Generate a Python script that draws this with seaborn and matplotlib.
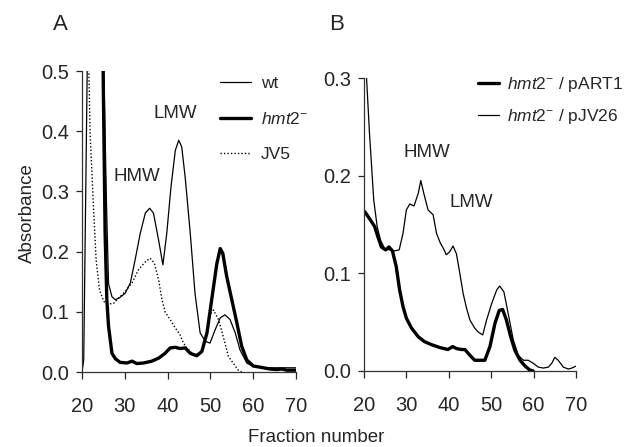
import matplotlib
matplotlib.use("Agg")
import matplotlib.pyplot as plt
import seaborn as sns
import pandas as pd
from matplotlib import font_manager

# ---------------- data ----------------
# Panel A
wt_x = [20.0, 20.4, 21.3, 22.0, 24.0, 25.05, 25.7, 26.2, 27.0, 27.8, 28.9, 30.1, 31.3, 32.4, 33.6,
        34.8, 35.8, 36.7, 37.9, 38.9, 39.8, 40.8, 41.8, 42.6, 43.3, 44.1, 45.3, 46.4, 47.6,
        48.8, 49.9, 51.1, 52.3, 53.4, 54.6, 55.8, 56.9, 58.5, 60.0, 61.6, 63.2, 66.0, 70.0]
wt_y = [0.0, 0.02, 0.55, 0.7, 0.7, 0.52, 0.286, 0.147, 0.125, 0.12, 0.124, 0.131, 0.148, 0.186, 0.23,
        0.264, 0.272, 0.264, 0.219, 0.178, 0.23, 0.308, 0.368, 0.385, 0.374, 0.324, 0.23, 0.131, 0.065,
        0.051, 0.048, 0.07, 0.09, 0.095, 0.087, 0.065, 0.037, 0.015, 0.009, 0.008, 0.007, 0.007, 0.007]

hmt2_x = [24.0, 24.9, 25.4, 25.8, 26.2, 27.0, 27.8, 28.9, 30.5, 31.7, 32.8, 34.4, 36.3, 37.9, 39.4,
          40.6, 41.8, 42.9, 44.1, 45.3, 46.8, 48.0, 49.2, 50.3, 51.5, 52.3, 52.9, 53.8, 55.0,
          56.2, 57.3, 58.5, 60.0, 61.6, 63.9, 65.5, 66.7, 67.8, 70.0]
hmt2_y = [0.7, 0.52, 0.23, 0.12, 0.076, 0.031, 0.022, 0.016, 0.015, 0.018, 0.014, 0.015, 0.018, 0.023, 0.031,
          0.04, 0.041, 0.039, 0.04, 0.031, 0.027, 0.034, 0.065, 0.12, 0.18, 0.205, 0.197, 0.159, 0.12,
          0.081, 0.043, 0.02, 0.01, 0.008, 0.005, 0.004, 0.005, 0.003, 0.003]

jv5_x = [21.3, 21.6, 21.9, 22.6, 23.3, 24.1, 25.1, 26.2, 27.4, 28.6, 30.1, 31.7, 33.2, 34.8, 35.9,
         36.9, 37.9, 38.7, 39.4, 40.6, 41.8, 42.9, 43.7, 44.5, 46.0, 47.6, 48.7, 49.9, 50.7,
         51.9, 53.0, 54.2, 55.3, 56.5, 57.3]
jv5_y = [0.6, 0.5, 0.396, 0.286, 0.186, 0.136, 0.117, 0.113, 0.114, 0.123, 0.134, 0.148, 0.17, 0.183, 0.189,
         0.181, 0.153, 0.12, 0.1, 0.087, 0.073, 0.062, 0.048, 0.04, 0.029, 0.031, 0.05, 0.095, 0.103,
         0.087, 0.059, 0.026, 0.015, 0.003, 0.0]

# Panel B
part1_x = [20.2, 21.3, 22.5, 23.3, 24.1, 25.1, 25.9, 26.7, 27.6, 28.4, 29.2, 30.0, 31.2, 32.8, 34.3,
           35.9, 37.9, 39.8, 40.9, 41.8, 43.0, 43.8, 45.0, 46.1, 47.3, 48.5, 49.7, 50.9, 51.9,
           52.7, 53.6, 54.6, 55.6, 56.8, 58.0, 59.1, 59.9]
part1_y = [0.163, 0.156, 0.148, 0.137, 0.127, 0.124, 0.127, 0.123, 0.107, 0.083, 0.066, 0.054, 0.044, 0.035, 0.03,
           0.027, 0.024, 0.022, 0.025, 0.023, 0.022, 0.022, 0.016, 0.011, 0.011, 0.011, 0.025, 0.049, 0.062,
           0.063, 0.052, 0.035, 0.021, 0.011, 0.005, 0.001, 0.0]

pjv26_x = [20.3, 20.6, 21.3, 22.3, 23.1, 23.9, 24.9, 26.1, 27.2, 28.3, 29.2, 30.0, 30.8, 31.8, 32.8,
           33.4, 34.1, 35.1, 36.3, 37.1, 38.0, 38.8, 39.4, 40.2, 41.0, 41.8, 42.6, 43.4, 44.2,
           45.0, 46.1, 46.9, 48.0, 48.9, 50.1, 51.3, 52.0, 53.0, 54.0, 55.2, 56.4, 57.6, 58.7,
           59.9, 61.1, 62.3, 63.5, 64.3, 65.0, 65.8, 67.0, 68.2, 69.0, 70.0]
pjv26_y = [0.32, 0.3, 0.243, 0.175, 0.148, 0.134, 0.125, 0.124, 0.123, 0.124, 0.141, 0.165, 0.171, 0.169, 0.182,
           0.195, 0.182, 0.165, 0.16, 0.141, 0.131, 0.125, 0.119, 0.122, 0.128, 0.12, 0.1, 0.079, 0.064,
           0.052, 0.044, 0.04, 0.037, 0.052, 0.069, 0.083, 0.087, 0.081, 0.059, 0.032, 0.016, 0.011, 0.011,
           0.008, 0.004, 0.003, 0.004, 0.008, 0.014, 0.011, 0.004, 0.002, 0.003, 0.005]

xticks = [20, 30, 40, 50, 60, 70]
yticks_a = [0.0, 0.1, 0.2, 0.3, 0.4, 0.5]
yticks_b = [0.0, 0.1, 0.2, 0.3]

# ---------------- style ----------------
sns.set_style("ticks")
names = {f.name for f in font_manager.fontManager.ttflist}
fam = ["Liberation Sans Narrow", "Liberation Sans", "DejaVu Sans"]
fam = [f for f in fam if f in names] or ["DejaVu Sans"]
plt.rcParams["font.family"] = fam
base = fam[0]
plt.rcParams["mathtext.fontset"] = "custom"
plt.rcParams["mathtext.rm"] = base
plt.rcParams["mathtext.it"] = base + ":italic"
plt.rcParams["mathtext.bf"] = base + ":bold"

TICK_FS = 14.5
LEG_FS = 12.5
ANN_FS = 13.5

fig = plt.figure(figsize=(6.24, 4.47), dpi=100)
axA = fig.add_axes([82 / 624, 1 - 372 / 447, 214 / 624, 301 / 447])
axB = fig.add_axes([364 / 624, 1 - 371 / 447, 212 / 624, 293 / 447])

thin = 0.9
thick = 2.4

dA = [("wt", wt_x, wt_y, dict(lw=thin, ls="-")),
      (r"$\mathit{hmt2}^{-}$", hmt2_x, hmt2_y, dict(lw=thick, ls="-")),
      ("JV5", jv5_x, jv5_y, dict(lw=1.0, ls=(0, (1, 1.5))))]
for lab, xs, ys, st in dA:
    df = pd.DataFrame({"x": xs, "y": ys})
    sns.lineplot(data=df, x="x", y="y", ax=axA, color="black", label=lab,
                 estimator=None, sort=False, **st)

dB = [(r"$\mathit{hmt2}^{-}$ / pART1", part1_x, part1_y, dict(lw=thick, ls="-")),
      (r"$\mathit{hmt2}^{-}$ / pJV26", pjv26_x, pjv26_y, dict(lw=thin, ls="-"))]
for lab, xs, ys, st in dB:
    df = pd.DataFrame({"x": xs, "y": ys})
    sns.lineplot(data=df, x="x", y="y", ax=axB, color="black", label=lab,
                 estimator=None, sort=False, **st)

for ax, yt, ymax in [(axA, yticks_a, 0.5), (axB, yticks_b, 0.3)]:
    ax.set_xlim(20, 70)
    ax.set_ylim(0, ymax)
    ax.set_xticks(xticks)
    ax.set_yticks(yt)
    ax.set_yticklabels([f"{v:.1f}" for v in yt])
    ax.set_xlabel("")
    ax.set_ylabel("")
    for s in ["top", "right"]:
        ax.spines[s].set_visible(False)
    for s in ["left", "bottom"]:
        ax.spines[s].set_linewidth(0.9)
        ax.spines[s].set_color("#333333")
    ax.tick_params(axis="x", direction="out", length=5, width=0.9, pad=13, labelsize=TICK_FS)
    ax.tick_params(axis="y", direction="out", length=4, width=0.9, pad=5, labelsize=TICK_FS)
    ax.patch.set_alpha(0)

legA = axA.legend(loc="upper left", bbox_to_anchor=(0.645, 0.985), frameon=False,
                  fontsize=LEG_FS, handlelength=1.8, handletextpad=0.55, labelspacing=1.15,
                  borderpad=0, borderaxespad=0)
legB = axB.legend(loc="upper left", bbox_to_anchor=(0.538, 1.01), frameon=False,
                  fontsize=LEG_FS, handlelength=1.2, handletextpad=0.45, labelspacing=0.75,
                  borderpad=0, borderaxespad=0)

axA.text(41.7, 0.43, "LMW", ha="center", va="center", fontsize=ANN_FS)
axA.text(32.8, 0.324, "HMW", ha="center", va="center", fontsize=ANN_FS)
axB.text(34.9, 0.224, "HMW", ha="center", va="center", fontsize=ANN_FS)
axB.text(45.2, 0.173, "LMW", ha="center", va="center", fontsize=ANN_FS)

fig.text(60 / 624, 1 - 25 / 447, "A", ha="center", va="center", fontsize=16)
fig.text(337 / 624, 1 - 25 / 447, "B", ha="center", va="center", fontsize=16)
fig.text(27 / 624, 1 - 213 / 447, "Absorbance", ha="center", va="center",
         rotation=90, fontsize=13.5)
fig.text(316 / 624, 1 - 437 / 447, "Fraction number", ha="center", va="center", fontsize=13.5)

fig.savefig("out.png", dpi=100)
